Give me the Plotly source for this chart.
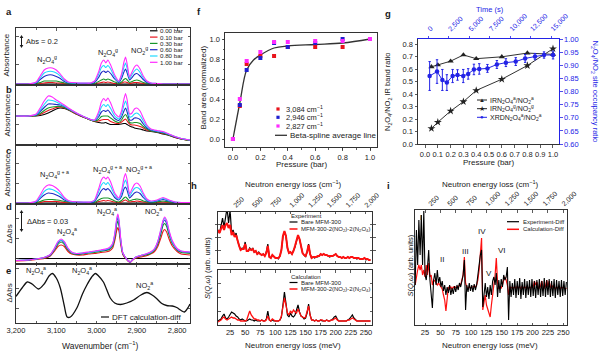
import numpy as np
import plotly.graph_objects as go

W, H = 600, 356
FONT = "Liberation Sans, Arial, Helvetica, sans-serif"
INK = "#1a1a1a"
FRAME = "#333333"
BLUE = "#2323e6"
RED = "#e8141c"
MAGENTA = "#ff2bff"

# ====================== DATA ======================
PRESSURE_LABELS = ["0.00 bar", "0.10 bar", "0.30 bar", "0.60 bar", "0.80 bar", "1.00 bar"]
PRESSURE_COLORS = ["#000000", "#e8141c", "#17962a", "#1f2bc4", "#1fd8ff", "#ff2bff"]

WN_TICK_VALS = [3200, 3100, 3000, 2900, 2800]
WN_TICK_TEXT = ["3,200", "3,100", "3,000", "2,900", "2,800"]
WN_MINOR = [3150, 3050, 2950, 2850]

# panels a-c wavenumber grid (cm-1)
WN_ABC = [3200, 3170, 3150, 3140, 3130, 3120, 3110, 3100, 3090, 3080,
          3070, 3060, 3045, 3030, 3015, 3005, 2995, 2988, 2982, 2977,
          2972, 2965, 2955, 2945, 2938, 2932, 2928, 2924, 2918, 2912,
          2906, 2900, 2892, 2884, 2875, 2865, 2850, 2835, 2820, 2805,
          2790, 2768]

# a: gas-phase absorbance (arb. units)
A_000 = [0, 0, 0, 0, 0, 0, 0, 0, 0, 0, 0, 0, 0, 0, 0, 0, 0, 0, 0, 0, 0,
         0, 0, 0, 0, 0, 0, 0, 0, 0, 0, 0, 0, 0, 0, 0, 0, 0, 0, 0, 0, 0]
A_010 = [0, 0, 0, 0.5, 1, 1.5, 1.5, 1, 1, 0.5, 0, 0, 0, 0, 0, 0, 1, 1.5, 2, 1.5,
         2, 1.5, 0.5, 0, 1, 2, 2, 1.5, 0.5, 1, 1.5, 1.5, 1, 0.5, 0, 0, 0, 0, 0, 0, 0, 0]
A_030 = [0, 0, 0.5, 1.5, 3, 3, 3, 3, 2, 1, 0.5, 0.5, 0.5, 0.5, 0.5, 0.5, 2.5, 4, 5, 4,
         5, 4, 2, 0.5, 2, 4.5, 5.5, 4, 1.5, 2.5, 3.5, 4, 3, 1.5, 0.5, 0, 0, 0, 0, 0, 0, 0]
A_060 = [0, 0, 1, 4.5, 7.5, 9, 9, 7.5, 5.5, 2.5, 1, 1, 0.5, 0.5, 0.5, 1.5, 6.5, 11.5, 13, 11.5,
         13, 10.5, 5, 1.5, 5.5, 12, 15, 11, 4, 6.5, 9.5, 10.5, 8, 4.5, 1.5, 0.5, 0, 0, 0, 0, 0, 0]
A_080 = [0, 0, 1.5, 6, 11, 12.5, 12.5, 11, 8, 4, 1.5, 1, 1, 1, 1, 2.5, 9.5, 16.5, 18.5, 16.5,
         18.5, 15, 7, 2.5, 8, 17, 21, 15.5, 5.5, 9.5, 13, 15, 11.5, 6, 2.5, 1, 0.5, 0, 0, 0, 0, 0]
A_100 = [0, 0, 2, 8, 14, 16, 16, 14, 10, 5, 2, 1.5, 1, 1, 1, 3, 12, 21, 24, 21,
         24, 19, 9, 3, 10, 22, 27, 20, 7, 12, 17, 19, 15, 8, 3, 1, 0.5, 0, 0, 0, 0, 0]

# b: MOF + gas absorbance
B_000 = [28, 28, 28, 28.5, 29.5, 31, 33, 35, 36, 35.5, 34, 32, 29, 26.5, 24, 22.5, 21.5, 21, 21, 21.5,
         20.5, 19.5, 19.5, 19.5, 20, 20.5, 20.5, 19.5, 18, 17, 16, 15.5, 15, 14, 13, 12.5, 11.5, 10, 8.5, 6.5, 5, 3.5]
B_010 = [28, 28, 28.5, 29.5, 31.5, 33.5, 35, 36.5, 37, 36, 34.5, 32, 29, 26.5, 24, 23, 23, 24, 24.5, 24.5,
         24.5, 22.5, 21, 20.5, 22, 24, 25, 23, 20, 19, 19, 18.5, 17.5, 16, 14, 13, 12, 10.5, 9, 6.5, 5, 3.5]
B_030 = [28, 28, 28.5, 30.5, 33.5, 36, 37, 37.5, 37.5, 36.5, 34.5, 32.5, 29.5, 26.5, 24, 23, 24.5, 27.5, 28, 28,
         28, 26, 23, 21.5, 24, 28, 29.5, 27, 21.5, 21, 21.5, 21.5, 20.5, 17.5, 15, 13, 12, 11, 9, 7, 5, 3.5]
B_060 = [28, 28, 29, 32.5, 36.5, 40, 40, 39.5, 39, 37.5, 35, 33, 29.5, 27, 24.5, 23.5, 27, 32, 33.5, 32.5,
         34, 30.5, 25.5, 23.5, 27, 33, 36, 32, 24, 24, 26, 26, 24.5, 20, 16, 14, 12.5, 11.5, 9.5, 7, 5.5, 4]
B_080 = [28, 28, 29.5, 34, 39.5, 44, 43.5, 42, 40, 38, 35.5, 33, 30, 27, 24.5, 23.5, 29.5, 37, 39.5, 37.5,
         39.5, 35.5, 28, 25, 30, 39, 43, 38, 27, 27.5, 30, 31, 28.5, 23, 17.5, 14.5, 13, 12, 9.5, 7.5, 5.5, 4]
B_100 = [28, 28, 30, 36, 43, 48, 47, 44, 41.5, 39, 36, 33.5, 30, 27, 24.5, 24, 32, 42, 45.5, 43,
         46, 41, 31, 27, 33, 45, 50.5, 44, 30, 31, 35, 36, 33, 26, 19, 15, 13.5, 12.5, 10, 7.5, 5.5, 4]

# c: gas + adsorbed
C_000 = [0, 0, 0, 0, 0, 0, 0, 0, 0, 0, 0, 0, 0, 0, 0, 0, 0, 0, 0, 0, 0,
         0, 0, 0, 0, 0, 0, 0, 0, 0, 0, 0, 0, 0, 0, 0, 0, 0, 0, 0, 0, 0]
C_010 = [0, 0, 0, 0.5, 1.5, 1.5, 1.5, 1.5, 1, 0.5, 0.5, 0.5, 0.5, 0.5, 0, 0.5, 1.5, 2, 2.5, 2,
         2.5, 2, 1, 0.5, 1, 2.5, 3, 2, 1, 1.5, 1.5, 2, 1.5, 1, 0.5, 0.5, 0.5, 1, 0.5, 0, 0, 0]
C_030 = [0, 0, 0.5, 1.5, 3, 3.5, 3.5, 3, 2.5, 1.5, 1, 1, 1, 0.5, 0.5, 0.5, 3, 4.5, 5, 5,
         5, 4, 2, 1, 2.5, 5, 6, 4.5, 2, 3, 3.5, 4, 3.5, 2, 1, 0.5, 1, 2, 1, 0.5, 0, 0]
C_060 = [0, 0, 1, 4.5, 8, 10, 9.5, 8, 6, 3, 1.5, 1, 0.5, 0.5, 0.5, 1.5, 7.5, 12.5, 14.5, 13,
         14.5, 11.5, 5.5, 3, 6.5, 14, 16, 12.5, 5, 7.5, 10, 11, 9.5, 5.5, 2, 1, 2, 3.5, 2, 0.5, 0.5, 0.5]
C_080 = [0, 0, 1.5, 6, 11.5, 14, 13.5, 11.5, 8.5, 4.5, 2, 1, 1, 1, 1, 2.5, 11, 18, 20.5, 18.5,
         20.5, 16.5, 8, 4, 9.5, 19.5, 23, 18, 7, 11, 14.5, 15.5, 13.5, 8, 3, 1.5, 2.5, 4.5, 2.5, 1, 0.5, 0.5]
C_100 = [0, 0, 2, 8, 15, 18, 17.5, 15, 11, 5.5, 2.5, 1.5, 1, 1, 1, 3, 14, 23, 26, 24,
         26, 21, 10, 5, 12, 25, 29.5, 23, 9, 14, 18.5, 20, 17, 10, 4, 2, 3, 5.5, 3, 1, 0.5, 0.5]

# d: adsorbed (difference) spectra
WN_D = [3200, 3170, 3150, 3130, 3115, 3105, 3096, 3088, 3080, 3072,
        3062, 3050, 3035, 3020, 3005, 2990, 2978, 2968, 2960, 2954,
        2950, 2947, 2944, 2940, 2935, 2928, 2922, 2916, 2910, 2902,
        2890, 2878, 2866, 2856, 2848, 2840, 2835, 2831, 2826, 2820,
        2812, 2800, 2790, 2780, 2768]
D_000 = [0, 0, 0, 0, 0, 0, 0, 0, 0, 0, 0, 0, 0, 0, 0, 0, 0, 0, 0, 0, 0, 0, 0,
         0, 0, 0, 0, 0, 0, 0, 0, 0, 0, 0, 0, 0, 0, 0, 0, 0, 0, 0, 0, 0, 0]
D_010 = [-2.5, -2, -1, 0, 2.5, 7, 12, 13.5, 12, 7.5, 4.5, 3.5, 3.5, 4.5, 5, 6, 6.5, 7.5, 10.5, 19,
         28, 31, 26.5, 14, 4, 0, -2.5, -4, -1.5, 0.5, 1.5, 2.5, 4.5, 7, 12, 21, 27, 29, 26.5, 19.5,
         12.5, 7, 4.5, 4, 3.5]
D_030 = [-2, -1.5, -0.5, 0.5, 3, 8.5, 14, 16.5, 14, 9, 5.5, 4, 4.5, 5.5, 6, 7, 8, 9, 12.5, 22.5,
         33.5, 37.5, 32, 17, 5, 0.5, -2, -3.5, -1, 1, 2.5, 3.5, 5, 8.5, 14.5, 25, 33, 35, 32, 23.5,
         15, 8.5, 6, 5.5, 5]
D_060 = [-2, -1.5, -0.5, 1, 3.5, 9, 15.5, 18, 15.5, 10, 6, 4.5, 5, 6, 7, 8, 8.5, 10, 14, 25,
         37, 41, 35, 18.5, 5.5, 1, -2, -3.5, -1, 1.5, 3, 4, 6, 9, 16, 27.5, 36, 38.5, 35, 26,
         16.5, 9, 7, 6.5, 6]
D_080 = [-2, -1.5, -0.5, 1, 4, 9.5, 16.5, 18.5, 16.5, 10.5, 6, 5, 5.5, 6, 7, 8, 9, 10.5, 14.5, 26,
         38.5, 43, 36.5, 19, 6, 1, -2, -3.5, -1, 1.5, 3, 4.5, 6, 9.5, 17, 29, 37.5, 40.5, 37.5, 27,
         16.5, 9.5, 7.5, 7, 6.5]
D_100 = [-2, -1.5, -0.5, 1, 4, 10, 17, 19.5, 17, 11, 6.5, 5, 5.5, 6.5, 7.5, 8.5, 9.5, 11, 15, 27,
         40, 44.5, 38, 20, 6, 1, -2, -3.5, -1, 1.5, 3, 4.5, 6.5, 10, 17, 30, 38, 41.5, 38, 28,
         18, 10, 7.5, 7, 6.5]

# e: DFT calculation-diff
WN_E = [3200, 3185, 3172, 3160, 3144, 3130, 3118, 3110, 3100, 3090,
        3080, 3073, 3065, 3049, 3035, 3024, 3012, 3003, 2995, 2983,
        2966, 2955, 2941, 2925, 2908, 2890, 2875, 2862, 2851, 2838,
        2826, 2812, 2801, 2790, 2782, 2772, 2768]
E_DFT = [26.5, 35, 41, 39, 34, 39, 47, 49.5, 45, 35,
         17, 6, 6, 15, 29, 38, 46, 49.5, 47, 41,
         25, 20, 18.5, 20, 23, 28, 30.5, 28, 24.5, 19.5,
         17.5, 17, 15.5, 12.5, 11, 16, 19]

# f: normalized band areas
F_PRESSURE = [0, 0.05, 0.1, 0.2, 0.3, 0.4, 0.6, 0.8, 1.0]
F_3084 = [0, 0.33, 0.75, 0.83, 0.83, 0.92, 0.92, 0.92, 1.0]
F_2946 = [0, 0.34, 0.69, 0.81, 0.96, 0.92, 0.96, 1.0, 1.0]
F_2827 = [0, 0.40, 0.78, 0.87, 0.97, 0.97, 0.98, 0.98, 1.0]
F_SPLINE_P = [0, 0.05, 0.1, 0.15, 0.2, 0.3, 0.4, 0.6, 0.8, 1.0]
F_SPLINE = [0, 0.36, 0.69, 0.79, 0.84, 0.91, 0.93, 0.945, 0.96, 1.0]
F_TICK_VALS = [0, 0.2, 0.4, 0.6, 0.8, 1.0]
F_TICK_TEXT = ["0.0", "0.2", "0.4", "0.6", "0.8", "1.0"]

# g: ratios
G_PRESSURE = [0.05, 0.1, 0.2, 0.3, 0.4, 0.6, 0.8, 1.0]
G_IR_ADS = [0.62, 0.635, 0.665, 0.715, 0.685, 0.70, 0.73, 0.72]
G_IR_GAS = [0.125, 0.175, 0.265, 0.34, 0.43, 0.52, 0.63, 0.765]
G_TIME = [200, 1100, 1750, 2300, 3000, 3600, 4300, 4900, 5600, 6250,
          7250, 8400, 9500, 10700, 11850, 13050, 14150, 15250]
G_XRD = [0.859, 0.876, 0.844, 0.834, 0.859, 0.863, 0.859, 0.867, 0.884, 0.886,
         0.888, 0.903, 0.910, 0.914, 0.926, 0.933, 0.939, 0.939]
G_XRD_ERR = [0.055, 0.045, 0.04, 0.03, 0.025, 0.02, 0.025, 0.02, 0.02, 0.02,
             0.015, 0.015, 0.015, 0.015, 0.015, 0.012, 0.012, 0.015]
G_P_TICKS = [0, 0.1, 0.2, 0.3, 0.4, 0.5, 0.6, 0.7, 0.8, 0.9, 1.0]
G_P_TEXT = ["0.0", "0.1", "0.2", "0.3", "0.4", "0.5", "0.6", "0.7", "0.8", "0.9", "1.0"]
G_L_TICKS = [0, 0.1, 0.2, 0.3, 0.4, 0.5, 0.6, 0.7, 0.8]
G_L_TEXT = ["0.0", "0.1", "0.2", "0.3", "0.4", "0.5", "0.6", "0.7", "0.8"]
G_R_TICKS = [0.6, 0.65, 0.7, 0.75, 0.8, 0.85, 0.9, 0.95, 1.0]
G_R_TEXT = ["0.60", "0.65", "0.70", "0.75", "0.80", "0.85", "0.90", "0.95", "1.00"]
G_T_TICKS = [0, 2500, 5000, 7500, 10000, 12500, 15000]
G_T_TEXT = ["0", "2,500", "5,000", "7,500", "10,000", "12,500", "15,000"]

# h / i: inelastic neutron scattering
MEV_TICKS = [25, 50, 75, 100, 125, 150, 175, 200, 225, 250]
MEV_TEXT = ["25", "50", "75", "100", "125", "150", "175", "200", "225", "250"]
CM_TICKS = [250, 500, 750, 1000, 1250, 1500, 1750, 2000]
CM_TEXT = ["250", "500", "750", "1,000", "1,250", "1,500", "1,750", "2,000"]
CM_PER_MEV = 8.0655
H_RANGE = [5, 260]
I_RANGE = [8.7, 256]

E_H = np.arange(5, 258, 2.5)
H_EXP_BARE = [33, 30, 37, 45, 36, 48, 55, 40, 53, 30,
              33, 27, 30, 22, 17, 13, 15, 14, 21, 12,
              12, 15, 13, 15, 11, 12, 9, 11, 9, 8,
              9, 7, 11, 19, 6, 5, 8, 6, 5, 5,
              4, 7, 13, 26, 31, 27, 15, 10, 11, 9,
              12, 16, 22, 27, 24, 16, 10, 8, 6, 11,
              19, 9, 5, 6, 5, 6, 6, 7, 9, 8,
              9, 8, 8, 7, 6, 7, 7, 8, 9, 7,
              6, 6, 5, 6, 5, 5, 6, 5, 6, 6,
              5, 5, 4, 5, 4, 4, 4, 5, 3, 4,
              3, 3]
H_EXP_LOADED = [33, 30, 34, 38, 33, 38, 40, 35, 38, 28,
                31, 26, 28, 21, 17, 13, 14, 14, 19, 12,
                12, 14, 13, 14, 11, 12, 9, 10, 9, 8,
                9, 7, 10, 17, 6, 5, 8, 6, 5, 5,
                5, 7, 13, 27, 32, 27, 15, 10, 11, 9,
                12, 17, 23, 28, 24, 15, 10, 8, 7, 11,
                18, 9, 5, 6, 6, 6, 7, 7, 9, 8,
                9, 8, 8, 7, 7, 7, 7, 8, 9, 7,
                6, 6, 5, 6, 5, 5, 6, 5, 6, 6,
                5, 5, 5, 5, 4, 4, 4, 5, 4, 4,
                3, 3]
H_CALC_BARE = [4, 5, 6, 9, 11, 7, 6, 8, 11, 13,
               12, 11, 9, 8, 6, 5, 6, 5, 4, 4,
               5, 6, 5, 5, 4, 5, 4, 4, 4, 5,
               4, 4, 6, 14, 5, 4, 5, 4, 4, 4,
               4, 5, 8, 20, 33, 22, 10, 8, 12, 9,
               8, 10, 14, 20, 13, 9, 8, 6, 7, 12,
               21, 10, 5, 5, 4, 5, 4, 4, 5, 4,
               4, 4, 5, 4, 4, 5, 6, 8, 9, 6,
               4, 4, 4, 4, 4, 4, 5, 6, 8, 10,
               7, 5, 4, 4, 4, 4, 4, 4, 4, 4,
               4, 4]
H_CALC_LOADED = [3, 4, 5, 7, 8, 6, 5, 6, 7, 8,
                 7, 7, 6, 5, 5, 4, 4, 4, 4, 5,
                 10, 14, 10, 8, 6, 6, 5, 5, 4, 5,
                 4, 4, 5, 9, 5, 4, 6, 5, 4, 4,
                 4, 5, 9, 18, 27, 20, 12, 10, 14, 12,
                 15, 13, 12, 16, 12, 9, 8, 7, 8, 13,
                 19, 10, 5, 5, 4, 5, 4, 4, 5, 5,
                 4, 4, 5, 4, 4, 5, 5, 6, 7, 5,
                 4, 4, 4, 4, 4, 4, 5, 5, 6, 7,
                 6, 5, 4, 4, 4, 4, 4, 4, 4, 4,
                 4, 4]

E_I = np.arange(9, 256, 2)
I_EXP_DIFF = [40, 95, 60, 105, 70, 110, 60, 114, 50, 45,
              58, 75, 45, 30, 17, 45, 52, 40, 55, 42,
              48, 38, 44, 34, 40, 30, 38, 32, 40, 30,
              37, 31, 39, 33, 40, 35, 42, 38, 45, 50,
              65, 15, 40, 33, 42, 34, 40, 33, 41, 35,
              40, 50, 62, 70, 75, 18, 30, 42, 28, 38,
              26, 40, 30, 44, 48, 40, 52, 28, 45, 32,
              46, 38, 50, 45, 48, 58, 5, 44, 28, 42,
              30, 46, 27, 44, 30, 47, 26, 43, 30, 46,
              27, 44, 30, 45, 28, 46, 29, 44, 27, 45,
              30, 46, 28, 44, 29, 47, 28, 45, 30, 46,
              28, 44, 29, 46, 27, 45, 30, 44, 28, 45,
              29, 44, 30, 43]
I_CALC_DIFF = [40, 50, 55, 60, 55, 60, 50, 55, 48, 60,
               50, 62, 48, 50, 40, 45, 44, 42, 40, 42,
               40, 38, 36, 30, 25, 14, 28, 38, 36, 38,
               36, 38, 37, 38, 37, 38, 40, 40, 45, 50,
               68, 42, 38, 36, 38, 37, 38, 38, 39, 38,
               40, 45, 55, 70, 87, 15, 25, 30, 20, 15,
               10, 8, 20, 30, 42, 50, 67, 42, 36, 38,
               37, 40, 45, 48, 45, 40, 30, 38, 37, 38,
               37, 38, 36, 39, 37, 38, 36, 39, 37, 38,
               37, 39, 36, 38, 37, 39, 38, 44, 40, 43,
               38, 37, 39, 44, 38, 37, 39, 45, 38, 44,
               38, 37, 39, 38, 36, 38, 37, 39, 36, 38,
               37, 38, 36, 37]

# ====================== HELPERS ======================
def px_x(p):
    return p / W


def px_y(p):
    return 1 - p / H


fig = go.Figure()


def add_line(x, y, xa, ya, color, width, shape="linear", smoothing=0.6):
    line = dict(color=color, width=width, shape=shape)
    if shape == "spline":
        line["smoothing"] = smoothing
    fig.add_trace(go.Scatter(x=x, y=y, xaxis=xa, yaxis=ya, mode="lines", line=line,
                             showlegend=False, hoverinfo="skip"))


annotations = []
shapes = []


def text(x, y, s, size=8, color=INK, xanchor="center", angle=0, bold=False):
    if bold:
        s = "<b>" + s + "</b>"
    annotations.append(dict(x=px_x(x), y=px_y(y), xref="paper", yref="paper", text=s,
                            showarrow=False, font=dict(size=size, color=color, family=FONT),
                            xanchor=xanchor, yanchor="middle", textangle=angle, borderpad=0))


def seg(x0, y0, x1, y1, color, width=1.0):
    shapes.append(dict(type="line", xref="paper", yref="paper", x0=px_x(x0), y0=px_y(y0),
                       x1=px_x(x1), y1=px_y(y1), line=dict(color=color, width=width)))


def square(xc, yc, color, half=1.6):
    shapes.append(dict(type="rect", xref="paper", yref="paper", x0=px_x(xc - half), x1=px_x(xc + half),
                       y0=px_y(yc + half), y1=px_y(yc - half), line=dict(width=0), fillcolor=color))


def double_arrow(x, y_top, y_bot):
    seg(x, y_top + 1, x, y_bot - 1, INK, 1)
    shapes.append(dict(type="path", xref="paper", yref="paper", fillcolor=INK, line=dict(width=0),
                       path="M {} {} L {} {} L {} {} Z".format(
                           px_x(x), px_y(y_top), px_x(x - 1.8), px_y(y_top + 3), px_x(x + 1.8), px_y(y_top + 3))))
    shapes.append(dict(type="path", xref="paper", yref="paper", fillcolor=INK, line=dict(width=0),
                       path="M {} {} L {} {} L {} {} Z".format(
                           px_x(x), px_y(y_bot), px_x(x - 1.8), px_y(y_bot - 3), px_x(x + 1.8), px_y(y_bot - 3))))


TICKFONT = dict(size=7.5, family=FONT, color=INK)


def frame_axis(**kw):
    base = dict(showline=True, linecolor=FRAME, linewidth=1, mirror="allticks", ticks="inside",
                ticklen=2.5, tickwidth=0.8, tickcolor=FRAME, showgrid=False, zeroline=False,
                tickfont=TICKFONT)
    base.update(kw)
    return base


# ====================== TRACES ======================
AE_SETS = [
    (WN_ABC, [A_000, A_010, A_030, A_060, A_080, A_100], "x", "y"),
    (WN_ABC, [B_000, B_010, B_030, B_060, B_080, B_100], "x2", "y2"),
    (WN_ABC, [C_000, C_010, C_030, C_060, C_080, C_100], "x3", "y3"),
    (WN_D, [D_000, D_010, D_030, D_060, D_080, D_100], "x4", "y4"),
]
for wn, series, xa, ya in AE_SETS:
    for s, col in zip(series, PRESSURE_COLORS):
        add_line(wn, s, xa, ya, col, 1.1, "spline", 0.5)

add_line(WN_E, E_DFT, "x5", "y5", "#111111", 1.3, "spline", 0.8)

# f
add_line(F_SPLINE_P, F_SPLINE, "x6", "y6", "#333333", 1.3, "spline", 1.0)
for vals, col in ((F_3084, RED), (F_2946, "#1f1fd0"), (F_2827, MAGENTA)):
    fig.add_trace(go.Scatter(x=F_PRESSURE, y=vals, xaxis="x6", yaxis="y6", mode="markers",
                             marker=dict(symbol="square", size=4, color=col, line=dict(width=0)),
                             showlegend=False, hoverinfo="skip"))

# g
fig.add_trace(go.Scatter(x=G_PRESSURE, y=G_IR_ADS, xaxis="x7", yaxis="y7", mode="lines+markers",
                         line=dict(color="#333333", width=1),
                         marker=dict(symbol="triangle-up", size=5.5, color="#222222"),
                         showlegend=False, hoverinfo="skip"))
fig.add_trace(go.Scatter(x=G_PRESSURE, y=G_IR_GAS, xaxis="x7", yaxis="y7", mode="lines+markers",
                         line=dict(color="#333333", width=1),
                         marker=dict(symbol="star", size=6, color="#222222"),
                         showlegend=False, hoverinfo="skip"))
fig.add_trace(go.Scatter(x=G_TIME, y=G_XRD, xaxis="x8", yaxis="y8", mode="lines+markers",
                         line=dict(color=BLUE, width=1),
                         marker=dict(symbol="circle", size=4.5, color=BLUE),
                         error_y=dict(type="data", array=G_XRD_ERR, color=BLUE, thickness=1, width=1.2),
                         showlegend=False, hoverinfo="skip"))

# h  (loaded spectrum drawn against the cm-1 companion axis so it sits on top)
add_line(E_H, H_EXP_BARE, "x9", "y9", "#000000", 1.2)
add_line(E_H * CM_PER_MEV, H_EXP_LOADED, "x11", "y9", "#ff1010", 2.0)
add_line(E_H, H_CALC_BARE, "x10", "y10", "#000000", 1.2)
add_line(E_H, H_CALC_LOADED, "x10", "y10", "#ff1010", 1.3)

# i
add_line(E_I, I_CALC_DIFF, "x12", "y12", "#ff1010", 1.2)
add_line(E_I * CM_PER_MEV, I_EXP_DIFF, "x13", "y12", "#000000", 1.1)

# ====================== AXES ======================
axes = {}
AE_ROWS = [(28, 85, [-1, 56], [20, 48]),
           (85, 145, [-1, 59], [20, 40]),
           (145, 204, [-1, 58], [20, 40]),
           (204, 264, [-5.5, 54.5], [0, 20, 40]),
           (264, 323, [0, 59], [15, 35, 55])]
for i, (top, bot, yr, ytv) in enumerate(AE_ROWS, start=1):
    sx = "" if i == 1 else str(i)
    axes["xaxis" + sx] = frame_axis(domain=[px_x(16), px_x(190)], range=[3200, 2768],
                                    anchor="y" + sx, tickvals=WN_TICK_VALS, ticktext=WN_TICK_TEXT,
                                    showticklabels=(i == 5),
                                    minor=dict(tickvals=WN_MINOR, ticks="inside", ticklen=2,
                                               tickcolor=FRAME, tickwidth=0.8))
    axes["yaxis" + sx] = frame_axis(domain=[px_y(bot), px_y(top)], range=yr, anchor="x" + sx,
                                    tickvals=ytv, showticklabels=False)

# f
F_MINOR = dict(dtick=0.1, ticks="outside", ticklen=1.5, tickcolor=FRAME, tickwidth=0.8)
axes["xaxis6"] = frame_axis(domain=[px_x(225), px_x(377)], range=[-0.058, 1.051], anchor="y6",
                            tickvals=F_TICK_VALS, ticktext=F_TICK_TEXT, ticks="outside", mirror=True,
                            minor=F_MINOR)
axes["yaxis6"] = frame_axis(domain=[px_y(147), px_y(33)], range=[-0.08, 1.06], anchor="x6",
                            tickvals=F_TICK_VALS, ticktext=F_TICK_TEXT, ticks="outside", mirror=True,
                            minor=F_MINOR)

# g
axes["xaxis7"] = frame_axis(domain=[px_x(418), px_x(559)], range=[-0.055, 1.047], anchor="y7",
                            tickvals=G_P_TICKS, ticktext=G_P_TEXT, ticks="outside", mirror=False)
axes["yaxis7"] = frame_axis(domain=[px_y(144), px_y(39)], range=[0, 0.843], anchor="x7",
                            tickvals=G_L_TICKS, ticktext=G_L_TEXT, ticks="outside", mirror=False)
axes["xaxis8"] = frame_axis(overlaying="x7", side="top", anchor="y7", range=[-1220, 15976],
                            tickvals=G_T_TICKS, ticktext=G_T_TEXT, tickangle=-45, ticks="outside",
                            mirror=False, linecolor=BLUE, tickcolor=BLUE,
                            tickfont=dict(size=7, family=FONT, color=BLUE))
axes["yaxis8"] = frame_axis(overlaying="y7", side="right", anchor="x7", range=[0.6, 1.0],
                            tickvals=G_R_TICKS, ticktext=G_R_TEXT, ticks="outside", mirror=False,
                            linecolor=BLUE, tickcolor=BLUE,
                            tickfont=dict(size=7.5, family=FONT, color=BLUE))

# h
axes["xaxis9"] = frame_axis(domain=[px_x(218), px_x(372)], range=H_RANGE, anchor="y9",
                            tickvals=MEV_TICKS, showticklabels=False)
axes["yaxis9"] = frame_axis(domain=[px_y(263), px_y(211.5)], range=[0, 51.5], anchor="x9",
                            tickvals=[13, 26, 39], showticklabels=False)
axes["xaxis10"] = frame_axis(domain=[px_x(218), px_x(372)], range=H_RANGE, anchor="y10",
                             tickvals=MEV_TICKS, ticktext=MEV_TEXT)
axes["yaxis10"] = frame_axis(domain=[px_y(325), px_y(270)], range=[0, 55], anchor="x10",
                             tickvals=[14, 28, 42], showticklabels=False)
axes["xaxis11"] = dict(overlaying="x9", side="top", anchor="y9",
                       range=[r * CM_PER_MEV for r in H_RANGE],
                       tickvals=CM_TICKS, ticktext=CM_TEXT, tickangle=-45,
                       ticks="", showline=False, showgrid=False, zeroline=False,
                       tickfont=dict(size=7, family=FONT, color=INK))

# i
axes["xaxis12"] = frame_axis(domain=[px_x(415), px_x(567)], range=I_RANGE, anchor="y12",
                             tickvals=MEV_TICKS, ticktext=MEV_TEXT)
axes["yaxis12"] = frame_axis(domain=[px_y(325), px_y(210)], range=[0, 115], anchor="x12",
                             ticks="", showticklabels=False)
axes["xaxis13"] = dict(overlaying="x12", side="top", anchor="y12",
                       range=[r * CM_PER_MEV for r in I_RANGE],
                       tickvals=CM_TICKS, ticktext=CM_TEXT, tickangle=-45,
                       ticks="", showline=False, showgrid=False, zeroline=False,
                       tickfont=dict(size=7, family=FONT, color=INK))

# ====================== TEXT / LEGENDS ======================
N2O4 = "N<sub>2</sub>O<sub>4</sub>"
NO2 = "NO<sub>2</sub>"

for lab, (x, y) in zip("abcdefghi", [(8.5, 12), (8.5, 89), (8.5, 150), (8.5, 206), (8.5, 270),
                                      (198.5, 12), (387.5, 14), (194, 185), (388.5, 185)]):
    text(x, y, lab, 9.5, bold=True)

# y titles a-e
for y in (55, 115, 175):
    text(6.5, y, "Absorbance", 8, angle=-90)
text(8.5, 234, "ΔAbs", 8, angle=-90)
text(8.5, 293, "ΔAbs", 8, angle=-90)
text(100, 345, "Wavenumber (cm<sup>−1</sup>)", 8.5)

# a
double_arrow(21.5, 35, 48)
text(25, 41.5, "Abs = 0.2", 7.5, xanchor="left")
text(47, 60, N2O4 + "<sup>g</sup>", 7.5)
text(108, 52, N2O4 + "<sup>g</sup>", 7.5)
text(139, 50, NO2 + "<sup>g</sup>", 7.5)
for k, (lab, col) in enumerate(zip(PRESSURE_LABELS, PRESSURE_COLORS)):
    yy = 30.8 + k * 6.3
    seg(150, yy, 157.5, yy, col, 1.2)
    text(159, yy, lab, 6.2, xanchor="left")

# c
text(54, 174, N2O4 + "<sup>g + a</sup>", 7.5)
text(107, 169.5, N2O4 + "<sup>g + a</sup>", 7.5)
text(139, 169, NO2 + "<sup>g + a</sup>", 7.5)

# d
double_arrow(21.5, 210, 232)
text(26, 221, "ΔAbs = 0.03", 7.5, xanchor="left")
text(67, 231.5, N2O4 + "<sup>a</sup>", 7.5)
text(106.7, 211.5, N2O4 + "<sup>a</sup>", 7.5)
text(153.3, 211.5, NO2 + "<sup>a</sup>", 7.5)

# e
text(36, 270, N2O4 + "<sup>a</sup>", 7.5)
text(82, 270, N2O4 + "<sup>a</sup>", 7.5)
text(144, 285, NO2 + "<sup>a</sup>", 7.5)
seg(101, 317, 109, 317, "#111111", 1.2)
text(111, 317, "DFT calculation-diff", 8, xanchor="left")

# f
text(203.5, 88, "Band area (normalized)", 8, angle=-90)
text(301, 164.5, "Pressure (bar)", 8)
for yy, col, lab in ((109, RED, "3,084 cm<sup>−1</sup>"), (117.3, "#1f1fd0", "2,946 cm<sup>−1</sup>"),
                     (126, MAGENTA, "2,827 cm<sup>−1</sup>")):
    square(278, yy, col)
    text(285, yy, lab, 7.5, xanchor="left")
seg(275, 135.3, 287, 135.3, "#333333", 1.3)
text(289, 135.3, "Beta-spline average line", 8, xanchor="left")

# g
text(388, 92, N2O4 + "/" + NO2 + " IR band ratio", 7.5, angle=-90)
text(594.5, 91, N2O4 + "/" + NO2 + " site occupancy ratio", 7.5, color=BLUE, angle=90)
text(488, 163, "Pressure (bar)", 8)
text(490, 10, "Time (s)", 7.5, color=BLUE)
for yy, col, sym, ssz, lab in (
        (100, "#222222", "▲", 6, "IR" + N2O4 + "<sup>a</sup>/" + NO2 + "<sup>a</sup>"),
        (108.7, "#222222", "★", 7, "IR" + N2O4 + "<sup>g</sup>/" + NO2 + "<sup>g</sup>"),
        (117.3, BLUE, "●", 6, "XRD" + N2O4 + "<sup>a</sup>/" + NO2 + "<sup>a</sup>")):
    seg(477, yy, 487, yy, col, 1)
    text(482, yy, sym, ssz, color=col)
    text(489, yy, lab, 7, xanchor="left")

# h
text(293, 184, "Neutron energy loss (cm<sup>−1</sup>)", 8)
text(293, 345, "Neutron energy loss (meV)", 8)
text(207, 268, "<i>S</i>(<i>Q</i>,<i>ω</i>) (arb. units)", 7.5, angle=-90)
text(289.5, 216.5, "Experiment", 6, xanchor="left")
seg(289.5, 222, 297.5, 222, "#000000", 1.2)
text(300, 222, "Bare MFM-300", 6, xanchor="left")
seg(289.5, 229, 297.5, 229, "#ff1010", 1.5)
text(300, 229, "MFM-300-2(" + NO2 + ")-2(" + N2O4 + ")", 6, xanchor="left")
text(289.5, 276.5, "Calculation", 6, xanchor="left")
seg(289.5, 282.5, 297.5, 282.5, "#000000", 1.2)
text(300, 282.5, "Bare MFM-300", 6, xanchor="left")
seg(289.5, 289, 297.5, 289, "#ff1010", 1.5)
text(300, 289, "MFM-300-2(" + NO2 + ")-2(" + N2O4 + ")", 6, xanchor="left")

# i
text(490, 184, "Neutron energy loss (cm<sup>−1</sup>)", 8)
text(490, 345, "Neutron energy loss (meV)", 8)
text(409.5, 266, "<i>S</i>(<i>Q</i>,<i>ω</i>) (arb. units)", 7.5, angle=-90)
seg(507, 221.7, 519, 221.7, "#000000", 1.2)
text(522, 221.7, "Experiment-Diff", 6, xanchor="left")
seg(507, 229.3, 519, 229.3, "#ff1010", 1.5)
text(522, 229.3, "Calculation-Diff", 6, xanchor="left")
for lab, (x, y) in zip(["I", "II", "III", "IV", "V", "VI"],
                       [(420.7, 217), (441.7, 259), (465, 251), (482.3, 231.7), (489.3, 273.3), (501.7, 250)]):
    text(x, y, lab, 8)

fig.update_layout(
    template="none", width=W, height=H, autosize=False,
    margin=dict(l=0, r=0, t=0, b=0, pad=0),
    paper_bgcolor="white", plot_bgcolor="rgba(0,0,0,0)",
    font=dict(family=FONT, size=8, color=INK),
    showlegend=False, hovermode=False,
    annotations=annotations, shapes=shapes,
    **axes,
)

fig.write_html("out.html", config={"displayModeBar": False, "staticPlot": True},
               post_script="document.body.style.margin='0px';")
